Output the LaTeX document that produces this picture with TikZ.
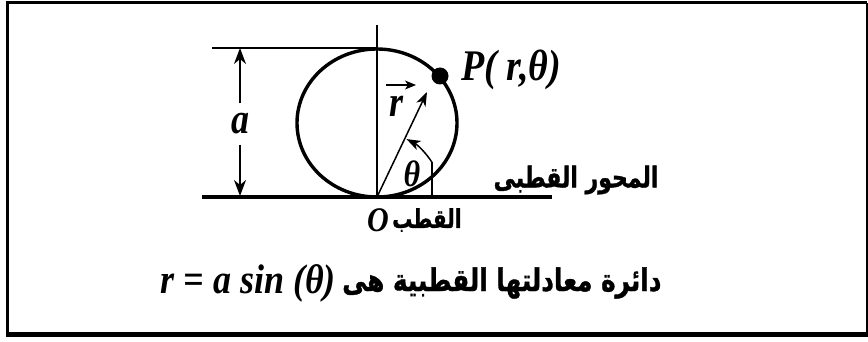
\documentclass[tikz,border=0pt]{standalone}
\usepackage{fontspec}
\setmainfont{Liberation Serif}
\newfontfamily\arabicfont[Script=Arabic,BoldFeatures={FakeBold=1.2}]{DejaVu Sans}
\TeXXeTstate=1
\usetikzlibrary{arrows.meta,calc}
\begin{document}
\begin{tikzpicture}[x=1pt,y=-1pt,
  lat/.style={font=\bfseries\itshape\fontsize{#1}{#1}\selectfont, inner sep=0pt},
  ar/.style={font=\arabicfont\bfseries\fontsize{#1}{#1}\selectfont, inner sep=0pt},
  thinline/.style={line width=1.5pt},
  tipA/.style={-{Stealth[length=16pt,width=12pt,inset=5pt]}},
  tipB/.style={-{Stealth[length=14pt,width=10pt,inset=4pt]}},
]
\useasboundingbox (0,0) rectangle (868,342);
% frame
\draw[line width=3pt] (7.5,334) -- (7.5,3) -- (867,3);
\draw[line width=5pt] (6,334) -- (868,334);
\draw[line width=1.5pt] (867,3) -- (867,334);
% coordinates
\coordinate (O) at (377,197);
\coordinate (P) at (440,76);
\coordinate (tipR) at (427,92);
\coordinate (g1) at (202,197);
\coordinate (g2) at (552,197);
\coordinate (ytop) at (377,25);
\coordinate (t1) at (212,48);
\coordinate (t2) at (377,48);
\coordinate (d1) at (240,48);
\coordinate (d2) at (240,196);
\coordinate (k1) at (432,197);
\coordinate (k2) at (432,162);
\coordinate (va) at (386,85);
\coordinate (vb) at (416,85);
% lines
\draw[line width=4pt] (g1) -- (g2);
\draw[thinline] (ytop) -- (O);
\draw[line width=2pt] (t1) -- (t2);
\draw[line width=3.4pt] (377,123) ellipse [x radius=80pt, y radius=74pt];
% dimension a
\node (alab) [lat=36, inner ysep=10pt] at (240,124) {\scalebox{1}[1.2]{a}};
\draw[thinline, tipA] (alab.north) -- (d1);
\draw[thinline, tipA] (alab.south) -- (d2);
% point P
\fill (P) circle[radius=8.5pt];
\node (Plab) [lat=38, anchor=west] at (461,70) {\scalebox{1}[1.15]{P( r,θ)}};
% vector r
\draw[thinline, tipB] (O) -- (tipR);
\node (rlab) [lat=36] at (397,106) {\scalebox{1}[1.2]{r}};
\draw[line width=1.5pt, -{Stealth[length=11pt,width=9pt,inset=3pt]}] (va) -- (vb);
% angle
\draw[thinline] (k1) -- (k2);
\draw[thinline, tipB] ($(O)+(32:65pt)$) arc[start angle=32, end angle=63, radius=65pt];
\node (thlab) [lat=32] at (412,174) {\scalebox{1}[1.15]{θ}};
% labels
\node (Olab) [lat=30] at (378,220) {\scalebox{1}[1.15]{O}};
\node (qutb) [ar=20, anchor=west] at (392,220) {\scalebox{1}[1.3]{\beginR القطب\endR}};
\node (axis) [ar=22] at (576,180) {\scalebox{1}[1.3]{\beginR المحور القطبى\endR}};
\node (eq) [lat=36, anchor=east] at (336,283) {\scalebox{1}[1.15]{r = a sin (θ)}};
\node (cap) [ar=24, anchor=west] at (342,283) {\scalebox{1.03}[1.3]{\beginR دائرة معادلتها القطبية هى\endR}};
\end{tikzpicture}
\end{document}
